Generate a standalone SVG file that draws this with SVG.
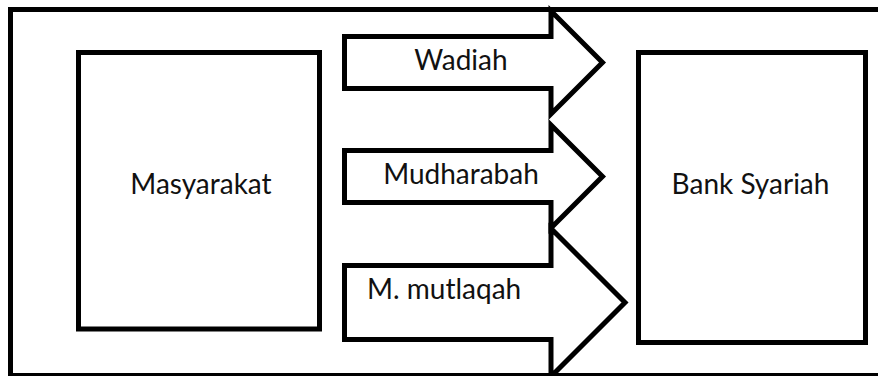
<svg xmlns="http://www.w3.org/2000/svg" width="878" height="376" viewBox="0 0 878 376">
  <style>
    .box { fill: none; stroke: #000; stroke-width: 5; stroke-linejoin: miter; }
    .arrow { fill: none; stroke: #000; stroke-width: 5; stroke-linejoin: miter; stroke-miterlimit: 10; }
    .label { font-family: Lato, "Liberation Sans", sans-serif; font-size: 28px; fill: #111; }
  </style>
  <rect width="878" height="376" fill="#fff"/>

  <!-- outer frame (runs past the right and bottom edges) -->
  <rect id="frame" class="box" x="10.5" y="9.5" width="880" height="366"/>

  <g id="masyarakat">
    <rect class="box" x="78.5" y="52.5" width="241" height="276.5"/>
    <text class="label" x="201" y="194" text-anchor="middle">Masyarakat</text>
  </g>

  <g id="bank-syariah">
    <rect class="box" x="638.5" y="52.5" width="227" height="290"/>
    <text class="label" x="750.5" y="194" text-anchor="middle">Bank Syariah</text>
  </g>

  <g id="connectors">
    <g id="wadiah">
      <path class="arrow" d="M344.5,36.5 H551 V11 L602.5,62.5 L551,114 V88.5 H344.5 Z"/>
      <text class="label" x="461" y="70" text-anchor="middle">Wadiah</text>
    </g>
    <g id="mudharabah">
      <path class="arrow" d="M344.5,150.5 H551 V125 L602.5,176.5 L551,228 V202.5 H344.5 Z"/>
      <text class="label" x="461" y="184" text-anchor="middle">Mudharabah</text>
    </g>
    <g id="m-mutlaqah">
      <path class="arrow" d="M344.5,265.5 H551 V228.5 L625,302.5 L551,376.5 V339.5 H344.5 Z"/>
      <text class="label" x="367" y="299">M. mutlaqah</text>
    </g>
  </g>
</svg>
